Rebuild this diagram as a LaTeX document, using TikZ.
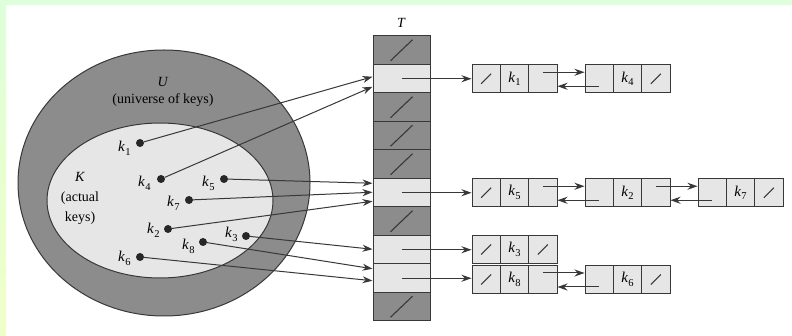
\documentclass[tikz,border=0pt]{standalone}
\usepackage{fontspec}
\setmainfont{Liberation Serif}
\usetikzlibrary{arrows.meta,calc,shapes.geometric}
\definecolor{bgG}{HTML}{DDFFD9}
\definecolor{bgY}{HTML}{F0FFC8}
\definecolor{darkfill}{HTML}{8C8C8C}
\definecolor{lightfill}{HTML}{E6E6E6}
\definecolor{ink}{HTML}{383838}
\newcommand\kk[1]{{\fontsize{15}{18}\selectfont\textit{k}}\kern0.2pt\raisebox{-0.6ex}{\fontsize{10.5}{11}\selectfont #1}}
\newcommand\elem[4]{% name, x-left, y-center, key
  \node[lcell] (#1p) at ({#2+14.17},#3) {};
  \node[lcell] (#1k) at ({#2+42.5},#3) {#4};
  \node[lcell] (#1n) at ({#2+70.83},#3) {};
}
\newcommand\lslash[1]{\draw[slash] ($(#1.center)+(-5,5)$) -- ($(#1.center)+(5,-5)$);}
\begin{document}
\begin{tikzpicture}[x=1pt,y=-1pt,font=\fontsize{14}{20}\selectfont,
  cellD/.style={draw=ink,fill=darkfill,minimum width=57pt,minimum height=28.5pt,inner sep=0pt,line width=1pt},
  cellL/.style={cellD,fill=lightfill},
  lcell/.style={draw=ink,fill=lightfill,minimum width=28.33pt,minimum height=28pt,inner sep=0pt,line width=1pt},
  dot/.style={circle,fill=ink!70!black,inner sep=0pt,minimum size=8pt},
  arr/.style={draw=ink,line width=1pt,-{Stealth[length=10pt,width=7pt]}},
  slash/.style={draw=ink,line width=1.1pt},
  klabel/.style={anchor=base west,inner sep=0pt}]
\useasboundingbox (0,0) rectangle (792,336);
\fill[white] (0,0) rectangle (792,336);
\fill[bgG] (0,0) rectangle (792,5);
\shade[top color=bgG,bottom color=bgY] (0,0) rectangle (6,336);

% sets
\node[ellipse,draw=ink,fill=darkfill,line width=1pt,minimum width=292pt,minimum height=266pt,inner sep=0pt] (Uset) at (164,183) {};
\node[ellipse,draw=ink,fill=lightfill,line width=1pt,minimum width=226pt,minimum height=155pt,inner sep=0pt] (Kset) at (160,200.5) {};
\node (Ulab) at (163,82) {\textit{U}};
\node (Utxt) at (163,100) {(universe of keys)};
\node[align=center,inner sep=0pt] (Ktxt) at (80,198) {\textit{K}\\(actual\\keys)};

% keys
\node[dot] (k1) at (140,143) {};
\node[dot] (k4) at (161,179) {};
\node[dot] (k5) at (224,179) {};
\node[dot] (k7) at (189,200) {};
\node[dot] (k2) at (168,229) {};
\node[dot] (k8) at (203,242) {};
\node[dot] (k3) at (246,236) {};
\node[dot] (k6) at (140,257) {};
\node[klabel] (lk1) at (118,152) {\kk{1}};
\node[klabel] (lk4) at (138,186.5) {\kk{4}};
\node[klabel] (lk5) at (202,186.5) {\kk{5}};
\node[klabel] (lk7) at (167,206.5) {\kk{7}};
\node[klabel] (lk2) at (147,233.5) {\kk{2}};
\node[klabel] (lk8) at (182,249.5) {\kk{8}};
\node[klabel] (lk3) at (225,237.5) {\kk{3}};
\node[klabel] (lk6) at (118,261.5) {\kk{6}};

% table
\node (Tlab) at (401.5,23) {\textit{T}};
\foreach \i/\s in {0/D,1/L,2/D,3/D,4/D,5/L,6/D,7/L,8/L,9/D}
  \node[cell\s] (t\i) at (401.5,{50.25+28.5*\i}) {};
\foreach \i in {0,2,3,4,6,9}
  \draw[slash] ($(t\i.center)+(-11,10.5)$) -- ($(t\i.center)+(11,-10.5)$);

% lists
\elem{a}{472}{78.75}{\kk{1}}
\elem{b}{585}{78.75}{\kk{4}}
\elem{c}{472}{192.75}{\kk{5}}
\elem{d}{585}{192.75}{\kk{2}}
\elem{e}{698}{192.75}{\kk{7}}
\elem{f}{472}{249.5}{\kk{3}}
\elem{g}{472}{279.5}{\kk{8}}
\elem{h}{585}{279.5}{\kk{6}}
\lslash{ap}\lslash{bn}\lslash{cp}\lslash{en}\lslash{fp}\lslash{fn}\lslash{gp}\lslash{hn}

% table to lists
\draw[arr] (t1.center) -- (t1.center -| ap.west);
\draw[arr] (t5.center) -- (t5.center -| cp.west);
\draw[arr] (t7.center) -- (t7.center -| fp.west);
\draw[arr] (t8.center) -- (t8.center -| gp.west);

% next / prev
\foreach \u/\v in {a/b,c/d,d/e,g/h}{
  \draw[arr] ($(\u n.center)+(0,-6.5)$) -- ($(\v p.west)+(0,-6.5)$);
  \draw[arr] ($(\v p.center)+(0,7.5)$) -- ($(\u n.east)+(0,7.5)$);
}

% keys to table
\draw[arr] (k1) -- ($(t1.west)+(0,-2)$);
\draw[arr] (k4) -- ($(t1.west)+(0,8)$);
\draw[arr] (k5) -- ($(t5.west)+(0,-9.5)$);
\draw[arr] (k7) -- ($(t5.west)+(0,-0.5)$);
\draw[arr] (k2) -- ($(t5.west)+(0,8.5)$);
\draw[arr] (k3) -- ($(t7.west)+(0,-0.5)$);
\draw[arr] (k8) -- ($(t8.west)+(0,-9.5)$);
\draw[arr] (k6) -- ($(t8.west)+(0,2.5)$);
\end{tikzpicture}
\end{document}
